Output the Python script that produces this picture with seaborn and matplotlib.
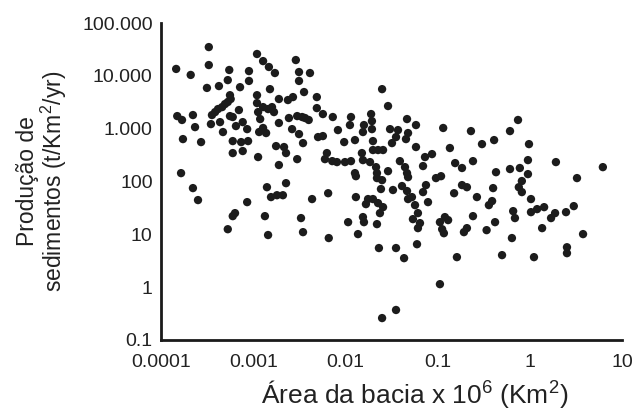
import matplotlib
matplotlib.use("Agg")
import matplotlib.pyplot as plt
import seaborn as sns
import pandas as pd

# Basin area (x 10^6 km2)
area = [
    0.000146, 0.00021, 0.00033, 0.00033, 0.000315, 0.000425, 0.00055, 0.00053, 0.00072, 0.0009,
    0.0009, 0.0011, 0.00128, 0.00148, 0.00172, 0.0011, 0.0011, 0.00152, 0.0019, 0.00238,
    0.0027, 0.0029, 0.00314, 0.00314, 0.00413, 0.00356, 0.0049, 0.0049, 0.000357, 0.000386,
    0.000415, 0.00046, 0.000494, 0.00053, 0.00057, 0.00056, 0.00015, 0.000169, 0.000222, 0.000234,
    0.000173, 0.000272, 0.000348, 0.000437, 0.00047, 0.00056, 0.0006, 0.0007, 0.00065, 0.00077,
    0.00086, 0.0006, 0.00074, 0.00088, 0.0006, 0.00077, 0.00113, 0.00113, 0.00128, 0.00145,
    0.0016, 0.00168, 0.00119, 0.00116, 0.00128, 0.00138, 0.0019, 0.00177, 0.00216, 0.00227,
    0.0019, 0.00244, 0.003, 0.0034, 0.00365, 0.004, 0.00264, 0.00314, 0.00347, 0.003,
    0.00505, 0.000165, 0.000222, 0.000252, 0.0006, 0.000635, 0.00053, 0.00086, 0.00141, 0.00156,
    0.00181, 0.0021, 0.00227, 0.00134, 0.00145, 0.0033, 0.00347, 0.00435, 0.025, 0.0057,
    0.0073, 0.0115, 0.0112, 0.019, 0.0194, 0.0194, 0.0159, 0.0155, 0.0083, 0.029,
    0.0466, 0.0583, 0.0305, 0.0372, 0.0478, 0.0454, 0.0354, 0.032, 0.115, 0.23,
    0.0057, 0.0097, 0.0127, 0.0199, 0.0199, 0.0226, 0.0256, 0.0151, 0.0063, 0.006,
    0.0072, 0.0081, 0.0099, 0.0115, 0.0155, 0.0185, 0.0583, 0.073, 0.087, 0.136,
    0.0127, 0.013, 0.0215, 0.022, 0.022, 0.025, 0.029, 0.039, 0.0443, 0.0466,
    0.0478, 0.0695, 0.096, 0.109, 0.155, 0.184, 0.242, 0.0243, 0.0328, 0.0411,
    0.0466, 0.0748, 0.0695, 0.184, 0.208, 0.151, 0.267, 0.0065, 0.013, 0.0167,
    0.0176, 0.0199, 0.0226, 0.0256, 0.0237, 0.0478, 0.0527, 0.0569, 0.0612, 0.0787,
    0.0155, 0.0159, 0.022, 0.0107, 0.0137, 0.0066, 0.054, 0.0644, 0.0612, 0.0598,
    0.0231, 0.0354, 0.0433, 0.106, 0.12, 0.13, 0.112, 0.117, 0.242, 0.193,
    0.208, 0.162, 0.106, 0.0354, 0.025, 0.745, 0.61, 0.303, 0.41, 0.98,
    0.955, 1.92, 6.2, 0.43, 0.61, 0.78, 0.955, 0.82, 3.25, 0.40,
    0.76, 0.82, 1.03, 0.39, 0.36, 0.66, 0.69, 1.03, 1.2, 1.43,
    1.88, 1.7, 2.47, 3.0, 0.34, 0.42, 1.36, 0.64, 3.78, 2.53,
    2.53, 0.5, 1.11,
]

# Sediment yield (t/km2/yr)
yield_ = [
    13500, 10400, 35000, 16000, 5900, 6400, 12900, 8300, 6100, 12300,
    8000, 25900, 19000, 14700, 11300, 4300, 3050, 5600, 3640, 3480,
    3960, 19900, 11800, 8000, 11300, 4930, 3960, 2450, 1810, 2060,
    2350, 2560, 2920, 3190, 3640, 4300, 1730, 1460, 1810, 1070,
    635, 557, 1220, 1330, 863, 1730, 1660, 2250, 1120, 1330,
    980, 582, 557, 582, 345, 377, 290, 2060, 2560, 2350,
    2560, 2060, 1520, 863, 1030, 826, 1280, 468, 449, 345,
    205, 1590, 1730, 1660, 1590, 1460, 980, 790, 533, 265,
    693, 144, 75, 44.5, 22.1, 25.2, 12.5, 40.7, 78, 50.7,
    55, 55, 93, 22.1, 9.7, 20.3, 11.0, 46.5, 5600, 1890,
    1660, 1660, 1170, 1890, 1390, 980, 1170, 863, 940, 2680,
    1520, 1170, 980, 940, 826, 635, 693, 533, 1030, 900,
    724, 557, 608, 582, 394, 394, 394, 345, 345, 265,
    243, 233, 233, 243, 254, 233, 449, 290, 330, 430,
    144, 126, 187, 144, 116, 106, 157, 243, 187, 144,
    121, 196, 116, 126, 223, 180, 243, 72, 69, 82,
    66, 85.5, 63, 85.5, 78, 60, 50.7, 60, 50.7, 37.3,
    46.5, 46.5, 39, 32.7, 25.2, 46.5, 50.7, 35.7, 25.2, 40.7,
    21.2, 17, 15.6, 17, 10.1, 8.5, 19.4, 16.3, 13.1, 6.5,
    5.5, 5.5, 3.54, 17, 21.2, 18.6, 12.5, 10.5, 22.1, 11,
    13.1, 3.7, 1.14, 0.37, 0.26, 1460, 900, 510, 608, 510,
    254, 233, 187, 150, 172, 180, 138, 102, 116, 75,
    78, 63, 46.5, 42.6, 35.7, 27.5, 20.3, 26.3, 30, 32.7,
    25.2, 20.3, 26.3, 34.2, 12, 17, 13.1, 8.5, 10.1, 5.7,
    4.4, 4.04, 3.7,
]

x_ticks = [0.0001, 0.001, 0.01, 0.1, 1, 10]
x_tick_labels = ["0.0001", "0.001", "0.01", "0.1", "1", "10"]
y_ticks = [0.1, 1, 10, 100, 1000, 10000, 100000]
y_tick_labels = ["0.1", "1", "10", "100", "1.000", "10.000", "100.000"]

x_title = "Área da bacia x 10$^{6}$ (Km$^{2}$)"
y_title = "Produção de\nsedimentos (t/Km$^{2}$/yr)"

df = pd.DataFrame({"area": area, "yield": yield_})

sns.set_style("white")
plt.rcParams["font.family"] = ["Liberation Sans", "DejaVu Sans"]
plt.rcParams["mathtext.fontset"] = "custom"
plt.rcParams["mathtext.rm"] = "Liberation Sans"
plt.rcParams["mathtext.it"] = "Liberation Sans"
plt.rcParams["mathtext.default"] = "regular"

fig = plt.figure(figsize=(6.34, 4.17), dpi=100)
ax = fig.add_axes([161 / 634, 1 - 340 / 417, (622 - 161) / 634, (340 - 23) / 417])

sns.scatterplot(data=df, x="area", y="yield", ax=ax, s=36, color="#1c1c1c",
                edgecolor="none", linewidth=0)

ax.set_xscale("log")
ax.set_yscale("log")
ax.set_xlim(0.0001, 10)
ax.set_ylim(0.1, 100000)
ax.set_xticks(x_ticks, labels=x_tick_labels)
ax.set_yticks(y_ticks, labels=y_tick_labels)
ax.minorticks_off()

for side in ["top", "right"]:
    ax.spines[side].set_visible(False)
for side in ["left", "bottom"]:
    ax.spines[side].set_linewidth(2.0)
    ax.spines[side].set_color("#1a1a1a")

ax.tick_params(axis="both", direction="in", length=6, width=2, color="#1a1a1a",
               labelsize=14, labelcolor="#222222")
ax.tick_params(axis="x", pad=10)
ax.tick_params(axis="y", pad=6)

ax.set_xlabel(x_title, fontsize=19, color="#222222")
ax.xaxis.set_label_coords(0.55, -0.12)
ax.set_ylabel(y_title, fontsize=16.5, color="#222222", multialignment="center",
              linespacing=1.0)
ax.yaxis.set_label_coords(-0.2, 0.5)

fig.savefig("out.png", dpi=100)
